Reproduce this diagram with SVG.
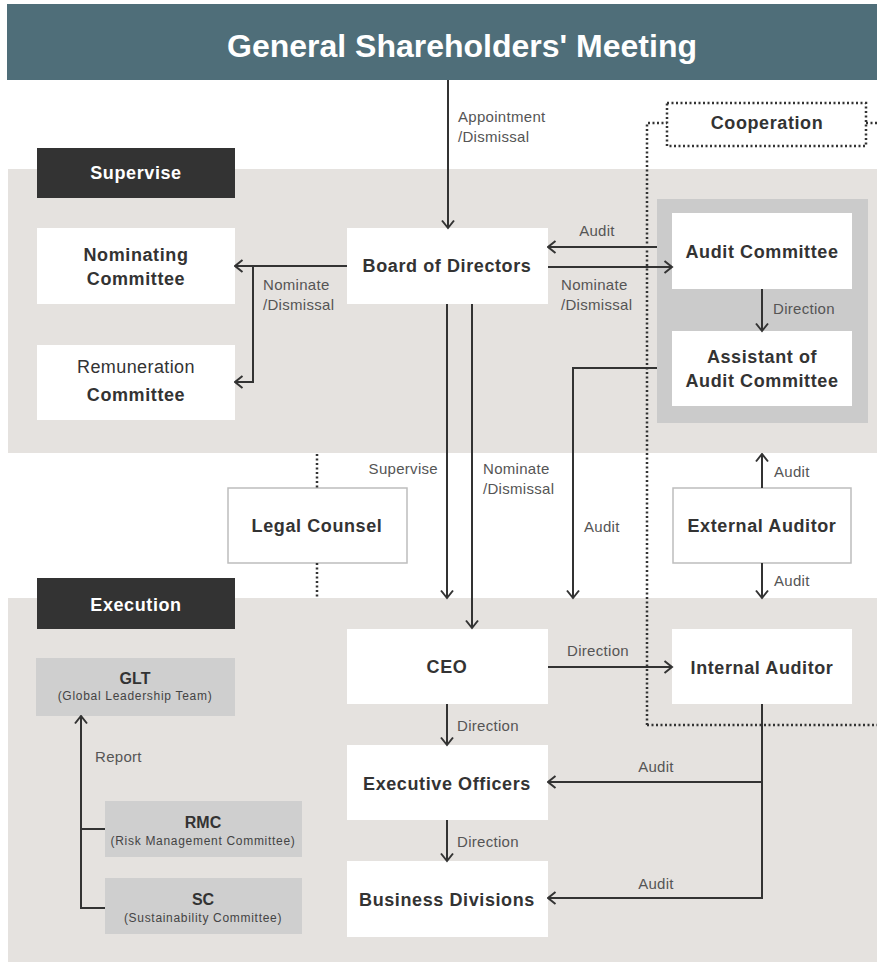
<svg xmlns="http://www.w3.org/2000/svg" width="877" height="964" viewBox="0 0 877 964">
<style>
.band{fill:#e5e2df}
.node{fill:#ffffff}
.tag{fill:#333333}
.gbox{fill:#cfcfcf}
.t{font-family:"Liberation Sans",Arial,sans-serif;font-weight:bold;font-size:18px;letter-spacing:0.6px;fill:#333333;text-anchor:middle}
.tw{font-family:"Liberation Sans",Arial,sans-serif;font-weight:bold;font-size:18px;letter-spacing:0.6px;fill:#ffffff;text-anchor:middle}
.tr{font-family:"Liberation Sans",Arial,sans-serif;font-size:18px;letter-spacing:0.4px;fill:#333333;text-anchor:middle}
.lb{font-family:"Liberation Sans",Arial,sans-serif;font-size:15px;letter-spacing:0.3px;fill:#555555}
.st{font-family:"Liberation Sans",Arial,sans-serif;font-weight:bold;font-size:16px;fill:#333333;text-anchor:middle}
.ss{font-family:"Liberation Sans",Arial,sans-serif;font-size:12px;letter-spacing:0.7px;fill:#444444;text-anchor:middle}
.c{fill:none;stroke:#333333;stroke-width:2}
.d{fill:none;stroke:#333333;stroke-width:2.5;stroke-dasharray:2 2.5}
</style>
<defs>
<marker id="a" markerUnits="userSpaceOnUse" markerWidth="12" markerHeight="16" viewBox="0 0 12 16" refX="10.5" refY="8" orient="auto">
<path d="M3,2 L10.5,8 L3,14" fill="none" stroke="#333333" stroke-width="2"/>
</marker>
</defs>

<!-- backgrounds -->
<rect class="band" x="8" y="169" width="869" height="284"/>
<rect class="band" x="8" y="598" width="869" height="364"/>

<g id="gsm">
<rect x="7" y="4" width="870" height="76" fill="#4f6e79"/>
<text x="462" y="57" font-family="Liberation Sans,Arial,sans-serif" font-weight="bold" font-size="32" fill="#ffffff" text-anchor="middle">General Shareholders' Meeting</text>
</g>

<g id="supervise-tag">
<rect class="tag" x="37" y="148" width="198" height="50"/>
<text class="tw" x="136" y="179">Supervise</text>
</g>

<g id="execution-tag">
<rect class="tag" x="37" y="578" width="198" height="51"/>
<text class="tw" x="136" y="611">Execution</text>
</g>

<g id="nominating">
<rect class="node" x="37" y="228" width="198" height="76"/>
<text class="t" x="136" y="261">Nominating</text>
<text class="t" x="136" y="285">Committee</text>
</g>

<g id="remuneration">
<rect class="node" x="37" y="345" width="198" height="75"/>
<text class="tr" x="136" y="373">Remuneration</text>
<text class="t" x="136" y="401">Committee</text>
</g>

<g id="board">
<rect class="node" x="347" y="228" width="201" height="76"/>
<text class="t" x="447" y="272">Board of Directors</text>
</g>

<g id="audit-group">
<rect x="657" y="199" width="211" height="224" fill="#cbcbcb"/>
</g>

<g id="audit-committee">
<rect class="node" x="672" y="213" width="180" height="76"/>
<text class="t" x="762" y="258">Audit Committee</text>
</g>

<g id="assistant">
<rect class="node" x="672" y="331" width="180" height="75"/>
<text class="t" x="762" y="363">Assistant of</text>
<text class="t" x="762" y="387">Audit Committee</text>
</g>

<g id="cooperation">
<rect x="667" y="103" width="199" height="43" class="d"/>
<text class="t" x="767" y="129">Cooperation</text>
</g>

<g id="legal">
<rect x="228" y="488" width="179" height="75" fill="#ffffff" stroke="#bdbdbd" stroke-width="1.5"/>
<text class="t" x="317" y="532">Legal Counsel</text>
</g>

<g id="external">
<rect x="673" y="488" width="178" height="75" fill="#ffffff" stroke="#bdbdbd" stroke-width="1.5"/>
<text class="t" x="762" y="532">External Auditor</text>
</g>

<g id="ceo">
<rect class="node" x="347" y="629" width="201" height="75"/>
<text class="t" x="447" y="673">CEO</text>
</g>

<g id="internal">
<rect class="node" x="672" y="629" width="180" height="75"/>
<text class="t" x="762" y="674">Internal Auditor</text>
</g>

<g id="officers">
<rect class="node" x="347" y="745" width="201" height="75"/>
<text class="t" x="447" y="790">Executive Officers</text>
</g>

<g id="divisions">
<rect class="node" x="347" y="861" width="201" height="76"/>
<text class="t" x="447" y="906">Business Divisions</text>
</g>

<g id="glt">
<rect class="gbox" x="36" y="658" width="199" height="58"/>
<text class="st" x="135" y="684">GLT</text>
<text class="ss" x="135" y="700">(Global Leadership Team)</text>
</g>

<g id="rmc">
<rect class="gbox" x="105" y="801" width="197" height="56"/>
<text class="st" x="203" y="828">RMC</text>
<text class="ss" x="203" y="845">(Risk Management Committee)</text>
</g>

<g id="sc">
<rect class="gbox" x="105" y="878" width="197" height="56"/>
<text class="st" x="203" y="905">SC</text>
<text class="ss" x="203" y="922">(Sustainability Committee)</text>
</g>

<g id="connectors">
<path class="c" d="M448,80 V228" marker-end="url(#a)"/>
<path class="c" d="M347,266 H235" marker-end="url(#a)"/>
<path class="c" d="M253,266 V382 H235" marker-end="url(#a)"/>
<path class="c" d="M657,247 H548" marker-end="url(#a)"/>
<path class="c" d="M548,267 H672" marker-end="url(#a)"/>
<path class="c" d="M762,289 V331" marker-end="url(#a)"/>
<path class="c" d="M657,368 H573 V598" marker-end="url(#a)"/>
<path class="c" d="M447,304 V598" marker-end="url(#a)"/>
<path class="c" d="M472,304 V628" marker-end="url(#a)"/>
<path class="c" d="M762,488 V454" marker-end="url(#a)"/>
<path class="c" d="M762,563 V598" marker-end="url(#a)"/>
<path class="c" d="M548,667 H672" marker-end="url(#a)"/>
<path class="c" d="M447,704 V745" marker-end="url(#a)"/>
<path class="c" d="M447,820 V861" marker-end="url(#a)"/>
<path class="c" d="M762,704 V898 H548" marker-end="url(#a)"/>
<path class="c" d="M762,782 H548" marker-end="url(#a)"/>
<path class="c" d="M105,908 H81 V716" marker-end="url(#a)"/>
<path class="c" d="M105,829 H81"/>
<path class="d" d="M647,725 V123 H667"/>
<path class="d" d="M866,123 H877"/>
<path class="d" d="M647,725 H877"/>
<path class="d" d="M317,454 V488"/>
<path class="d" d="M317,563 V598"/>

<text class="lb" x="458" y="122">Appointment</text>
<text class="lb" x="458" y="142">/Dismissal</text>
<text class="lb" x="263" y="290">Nominate</text>
<text class="lb" x="263" y="310">/Dismissal</text>
<text class="lb" x="597" y="236" text-anchor="middle">Audit</text>
<text class="lb" x="561" y="290">Nominate</text>
<text class="lb" x="561" y="310">/Dismissal</text>
<text class="lb" x="773" y="314">Direction</text>
<text class="lb" x="438" y="474" text-anchor="end">Supervise</text>
<text class="lb" x="483" y="474">Nominate</text>
<text class="lb" x="483" y="494">/Dismissal</text>
<text class="lb" x="584" y="532">Audit</text>
<text class="lb" x="774" y="477">Audit</text>
<text class="lb" x="774" y="586">Audit</text>
<text class="lb" x="598" y="656" text-anchor="middle">Direction</text>
<text class="lb" x="457" y="731">Direction</text>
<text class="lb" x="457" y="847">Direction</text>
<text class="lb" x="656" y="772" text-anchor="middle">Audit</text>
<text class="lb" x="656" y="889" text-anchor="middle">Audit</text>
<text class="lb" x="95" y="762">Report</text>
</g>
</svg>
